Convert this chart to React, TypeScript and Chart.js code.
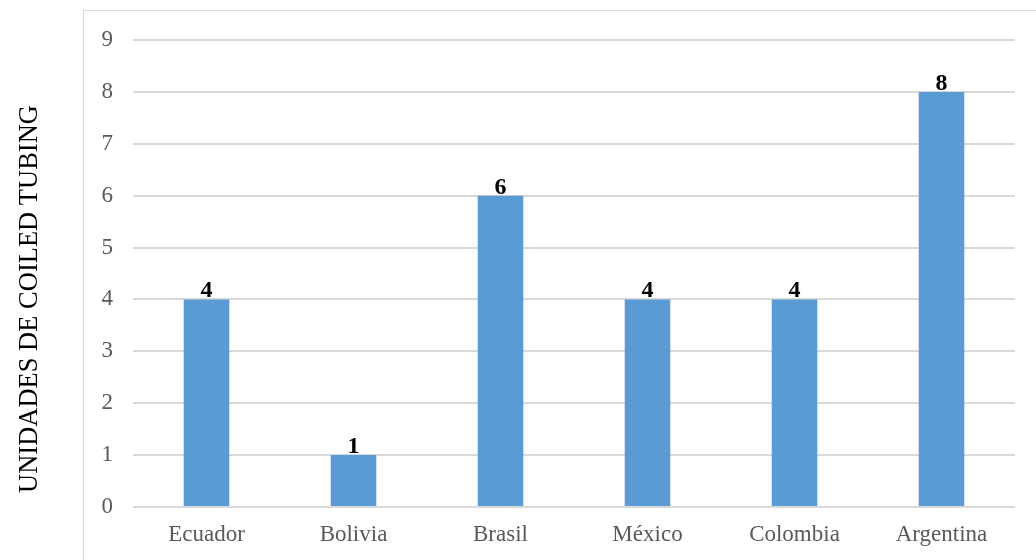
import React, { useEffect, useRef } from "react";
import { Chart, registerables } from "chart.js";

Chart.register(...registerables);

const categories = ["Ecuador", "Bolivia", "Brasil", "México", "Colombia", "Argentina"];
const values = [4, 1, 6, 4, 4, 8];
const yTitle = "UNIDADES DE COILED TUBING";

const FONT = "'Liberation Serif', 'Times New Roman', serif";

const decorPlugin = {
  id: "decor",
  beforeDraw(chart: any) {
    const ctx = chart.ctx;
    ctx.save();
    ctx.strokeStyle = "#d9d9d9";
    ctx.lineWidth = 1;
    ctx.strokeRect(83.5, 10.5, 1000, 600);
    ctx.restore();
  },
  afterDraw(chart: any) {
    const ctx = chart.ctx;
    ctx.save();
    // y axis title
    ctx.translate(30, 299);
    ctx.rotate(-Math.PI / 2);
    ctx.fillStyle = "#000000";
    ctx.font = `26.5px ${FONT}`;
    ctx.textAlign = "center";
    ctx.textBaseline = "middle";
    ctx.fillText(yTitle, 0, 0);
    ctx.restore();

    // data labels
    const meta = chart.getDatasetMeta(0);
    ctx.save();
    ctx.fillStyle = "#000000";
    ctx.font = `bold 24px ${FONT}`;
    ctx.textAlign = "center";
    ctx.textBaseline = "alphabetic";
    meta.data.forEach((bar: any, i: number) => {
      ctx.fillText(String(values[i]), bar.x, bar.y - 2);
    });
    ctx.restore();
  },
};

export default function App() {
  const ref = useRef<HTMLCanvasElement>(null);
  useEffect(() => {
    if (!ref.current) return;
    const chart = new Chart(ref.current, {
      type: "bar",
      data: {
        labels: categories,
        datasets: [
          {
            data: values,
            backgroundColor: "#5B9BD5",
            borderWidth: 0,
            barPercentage: 0.31,
            categoryPercentage: 1,
          },
        ],
      },
      options: {
        responsive: false,
        animation: false,
        layout: { padding: { top: 40, right: 21, left: 0, bottom: 0 } },
        plugins: {
          legend: { display: false },
          tooltip: { enabled: false },
        },
        scales: {
          x: {
            grid: { display: false, drawTicks: false },
            border: { display: false },
            ticks: { color: "#595959", font: { family: FONT, size: 23 }, padding: 14 },
            afterFit(scale: any) {
              scale.height = 53;
            },
          },
          y: {
            min: 0,
            max: 9,
            ticks: { stepSize: 1, color: "#595959", font: { family: FONT, size: 23 }, padding: 20 },
            grid: { color: "#d9d9d9", lineWidth: 2, drawTicks: false },
            border: { display: false },
            afterFit(scale: any) {
              scale.width = 133;
            },
          },
        },
      },
      plugins: [decorPlugin],
    });
    return () => chart.destroy();
  }, []);
  return (
    <canvas
      ref={ref}
      width={1036}
      height={560}
      style={{ position: "absolute", left: 0, top: 0, width: 1036, height: 560 }}
    />
  );
}
